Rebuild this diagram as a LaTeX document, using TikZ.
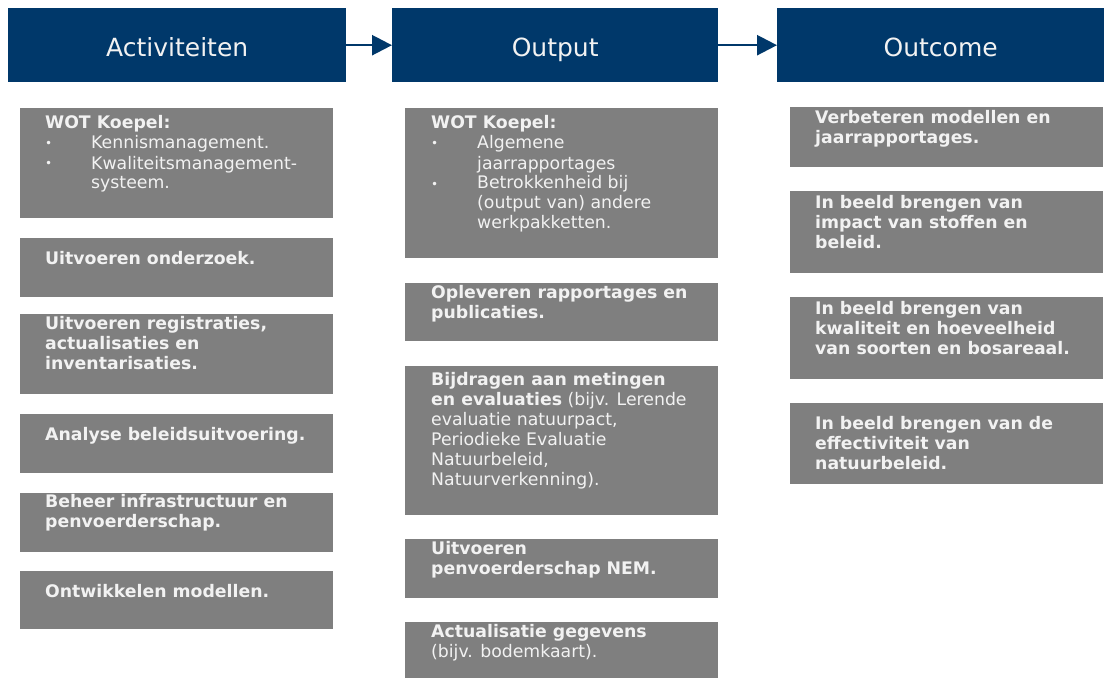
\documentclass[tikz,border=0pt]{standalone}
\usepackage{fontspec}
\setmainfont{DejaVu Sans}
\usetikzlibrary{arrows.meta}
\definecolor{navy}{RGB}{0,56,106}
\definecolor{boxgray}{RGB}{127,127,127}
\definecolor{txtc}{RGB}{242,242,242}
\newcommand{\bul}{\makebox[46pt][l]{\raisebox{1pt}{\fontsize{12}{12}\selectfont •}}}
\newcommand{\ind}{\hspace*{46pt}}
\newcommand{\tb}[1]{\parbox[t]{290pt}{\raggedright #1}}
\begin{document}
\begin{tikzpicture}[x=1pt,y=-1pt,
 hdr/.style={fill=navy, draw=none, minimum height=74pt, anchor=north west, inner sep=0, text height=23pt, text depth=1pt, text=txtc, font=\fontsize{25}{30}\selectfont},
 gbox/.style={fill=boxgray, draw=none, minimum width=313pt, anchor=north west, inner sep=0},
 gtext/.style={anchor=base west, inner sep=0, text=txtc, font=\fontsize{17.3}{20}\selectfont},
 flow/.style={draw=navy, line width=2.5pt, -{Triangle[length=20pt,width=20pt]}}
]
\useasboundingbox (0,0) rectangle (1107,679);

% headers
\node[hdr, minimum width=338pt] (h1) at (8,8) {Activiteiten};
\node[hdr, minimum width=326pt] (h2) at (392,8) {Output};
\node[hdr, minimum width=327pt] (h3) at (777,8) {Outcome};
\draw[flow] (h1.east) -- (h2.west);
\draw[flow] (h2.east) -- (h3.west);

% left column
\node[gbox, minimum height=110pt] (a1) at (20,108) {};
\node[gtext] (a1t) at (45,129) {\tb{\textbf{WOT Koepel:}\\ \bul Kennismanagement.\\ \bul Kwaliteitsmanagement-\\ \ind systeem.}};
\node[gbox, minimum height=59pt] (a2) at (20,238) {};
\node[gtext] (a2t) at (45,264) {\tb{\textbf{Uitvoeren onderzoek.}}};
\node[gbox, minimum height=80pt] (a3) at (20,314) {};
\node[gtext] (a3t) at (45,329) {\tb{\textbf{Uitvoeren registraties,}\\ \textbf{actualisaties en}\\ \textbf{inventarisaties.}}};
\node[gbox, minimum height=59pt] (a4) at (20,414) {};
\node[gtext] (a4t) at (45,440) {\tb{\textbf{Analyse beleidsuitvoering.}}};
\node[gbox, minimum height=59pt] (a5) at (20,493) {};
\node[gtext] (a5t) at (45,507) {\tb{\textbf{Beheer infrastructuur en}\\ \textbf{penvoerderschap.}}};
\node[gbox, minimum height=58pt] (a6) at (20,571) {};
\node[gtext] (a6t) at (45,597) {\tb{\textbf{Ontwikkelen modellen.}}};

% middle column
\node[gbox, minimum height=150pt] (b1) at (405,108) {};
\node[gtext] (b1t) at (431,129) {\tb{\textbf{WOT Koepel:}\\ \bul Algemene\\ \ind jaarrapportages\\ \bul Betrokkenheid bij\\ \ind (output van) andere\\ \ind werkpakketten.}};
\node[gbox, minimum height=58pt] (b2) at (405,283) {};
\node[gtext] (b2t) at (431,298) {\tb{\textbf{Opleveren rapportages en}\\ \textbf{publicaties.}}};
\node[gbox, minimum height=149pt] (b3) at (405,366) {};
\node[gtext] (b3t) at (431,385) {\tb{\textbf{Bijdragen aan metingen}\\ \textbf{en evaluaties} (bijv. Lerende\\ evaluatie natuurpact,\\ Periodieke Evaluatie\\ Natuurbeleid,\\ Natuurverkenning).}};
\node[gbox, minimum height=59pt] (b4) at (405,539) {};
\node[gtext] (b4t) at (431,554) {\tb{\textbf{Uitvoeren}\\ \textbf{penvoerderschap NEM.}}};
\node[gbox, minimum height=56pt] (b5) at (405,622) {};
\node[gtext] (b5t) at (431,637) {\tb{\textbf{Actualisatie gegevens}\\ (bijv. bodemkaart).}};

% right column
\node[gbox, minimum height=60pt] (c1) at (790,107) {};
\node[gtext] (c1t) at (815,124) {\tb{\textbf{Verbeteren modellen en}\\ \textbf{jaarrapportages.}}};
\node[gbox, minimum height=82pt] (c2) at (790,191) {};
\node[gtext] (c2t) at (815,208) {\tb{\textbf{In beeld brengen van}\\ \textbf{impact van stoffen en}\\ \textbf{beleid.}}};
\node[gbox, minimum height=82pt] (c3) at (790,297) {};
\node[gtext] (c3t) at (815,314) {\tb{\textbf{In beeld brengen van}\\ \textbf{kwaliteit en hoeveelheid}\\ \textbf{van soorten en bosareaal.}}};
\node[gbox, minimum height=81pt] (c4) at (790,403) {};
\node[gtext] (c4t) at (815,429) {\tb{\textbf{In beeld brengen van de}\\ \textbf{effectiviteit van}\\ \textbf{natuurbeleid.}}};
\end{tikzpicture}
\end{document}
